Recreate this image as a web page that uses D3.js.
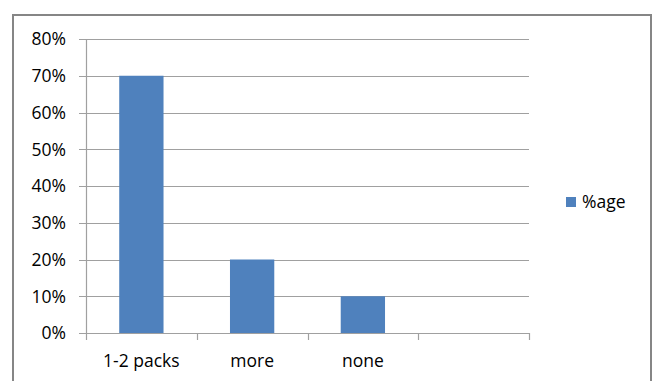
<!DOCTYPE html>
<html>
<head>
<meta charset="utf-8">
<script src="https://cdn.jsdelivr.net/npm/d3@7"></script>
<style>
  html, body { margin: 0; padding: 0; background: #fff; }
  svg { display: block; }
  text { font-family: "Open Sans", "Liberation Sans", sans-serif; fill: #000; }
</style>
</head>
<body>
<svg id="chart" width="658" height="381"></svg>
<script>
// Survey share by answer
const categories = ["1-2 packs", "more", "none", ""];
const values = [0.70, 0.20, 0.10, null];
const yTicks = [0, 0.1, 0.2, 0.3, 0.4, 0.5, 0.6, 0.7, 0.8];
const seriesName = "%age";

const svg = d3.select("#chart");
const plot = { left: 86, right: 529, top: 39, bottom: 333 };
const fontSize = 17.5;

// outer frame
svg.append("rect")
  .attr("x", 13).attr("y", 15)
  .attr("width", 638).attr("height", 380)
  .attr("fill", "none")
  .attr("stroke", "#868686")
  .attr("stroke-width", 2);

const x = d3.scaleBand().domain(d3.range(categories.length))
  .range([plot.left, plot.right]).paddingInner(0).paddingOuter(0);
const y = d3.scaleLinear().domain([0, 0.8]).range([plot.bottom, plot.top]);

// horizontal gridlines with left tick marks
svg.append("g").selectAll("line").data(yTicks).join("line")
  .attr("x1", plot.left - 7).attr("x2", plot.right)
  .attr("y1", d => Math.round(y(d)) + 0.5).attr("y2", d => Math.round(y(d)) + 0.5)
  .attr("stroke", "#a0a0a0").attr("stroke-width", 1.2);

// y axis labels
svg.append("g").selectAll("text").data(yTicks).join("text")
  .attr("x", 66).attr("y", d => y(d))
  .attr("dy", "0.36em")
  .attr("text-anchor", "end")
  .attr("font-size", fontSize)
  .text(d => d3.format(".0%")(d));

// vertical axis line
svg.append("line")
  .attr("x1", plot.left + 0.5).attr("x2", plot.left + 0.5)
  .attr("y1", plot.top).attr("y2", plot.bottom)
  .attr("stroke", "#a0a0a0").attr("stroke-width", 1.2);

// category boundary ticks below the baseline
const bounds = d3.range(categories.length + 1).map(i =>
  i < categories.length ? x(i) : x(categories.length - 1) + x.bandwidth());
svg.append("g").selectAll("line").data(bounds).join("line")
  .attr("x1", d => Math.round(d) + 0.5).attr("x2", d => Math.round(d) + 0.5)
  .attr("y1", plot.bottom).attr("y2", plot.bottom + 7)
  .attr("stroke", "#a0a0a0").attr("stroke-width", 1.2);

// bars
const barW = x.bandwidth() * 0.4;
svg.append("g").selectAll("rect")
  .data(values.map((v, i) => ({ v, i })).filter(d => d.v != null))
  .join("rect")
  .attr("x", d => x(d.i) + (x.bandwidth() - barW) / 2)
  .attr("y", d => y(d.v))
  .attr("width", barW)
  .attr("height", d => y(0) - y(d.v))
  .attr("fill", "#4f81bd");

// category labels
svg.append("g").selectAll("text").data(categories).join("text")
  .attr("x", (d, i) => x(i) + x.bandwidth() / 2)
  .attr("y", 361)
  .attr("dy", "0.36em")
  .attr("text-anchor", "middle")
  .attr("font-size", fontSize)
  .text(d => d);

// legend
const lg = svg.append("g");
lg.append("rect").attr("x", 566).attr("y", 197).attr("width", 10).attr("height", 10)
  .attr("fill", "#4f81bd");
lg.append("text").attr("x", 582).attr("y", 202).attr("dy", "0.36em")
  .attr("font-size", fontSize).text(seriesName);
</script>
</body>
</html>
